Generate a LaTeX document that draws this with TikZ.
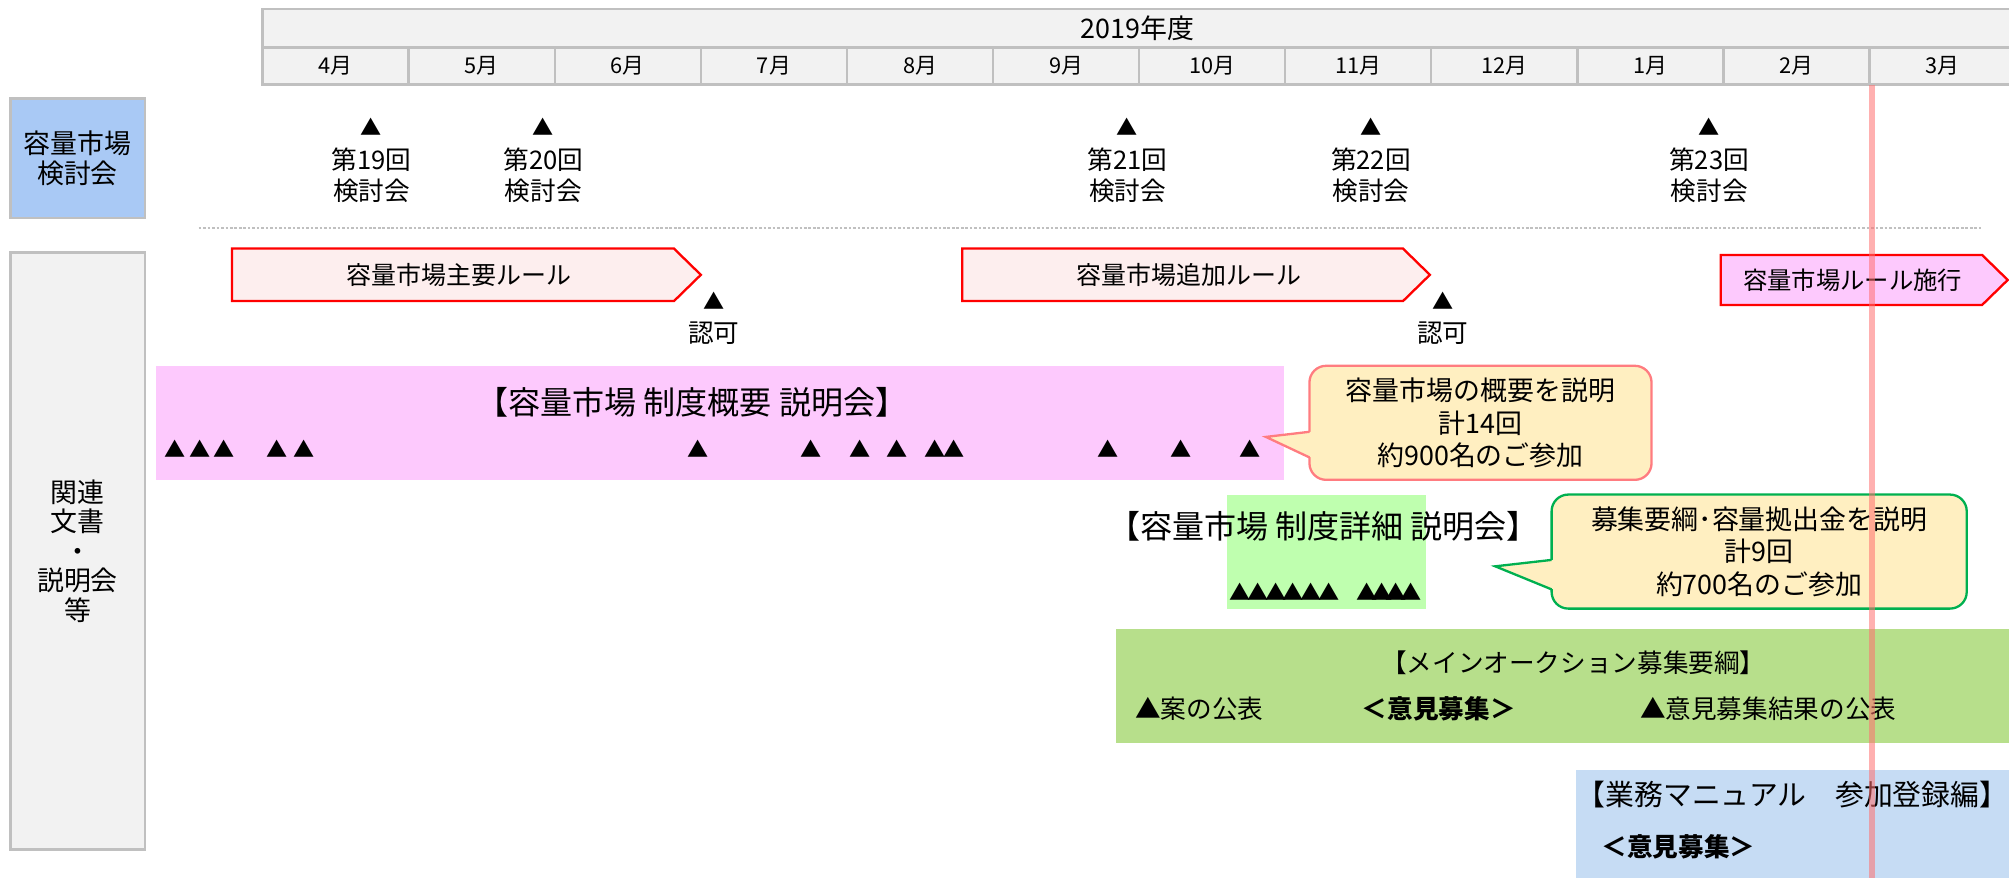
\documentclass[tikz,border=0pt]{standalone}
\usepackage{fontspec}
\setmainfont{Noto Sans CJK JP}
\definecolor{hdrfill}{HTML}{F2F2F2}
\definecolor{hdrline}{HTML}{C0C0C0}
\definecolor{sideblue}{HTML}{A9C9F5}
\definecolor{rulefill}{HTML}{FDEEEE}
\definecolor{rulered}{HTML}{FF0000}
\definecolor{pinkbox}{HTML}{FDC9FD}
\definecolor{callfill}{HTML}{FFEFC1}
\definecolor{callonel}{HTML}{FF7C80}
\definecolor{calltwol}{HTML}{00B050}
\definecolor{lgreen}{HTML}{BFFFAF}
\definecolor{mgreen}{HTML}{B7DF8B}
\definecolor{lblue}{HTML}{C6DCF4}
\definecolor{vline}{HTML}{FF6F6F}
\tikzset{
  hdr/.style={draw=hdrline, fill=hdrfill, line width=2pt, inner sep=0pt, font=\fontsize{21}{24}\selectfont},
  month/.style={draw=hdrline, fill=hdrfill, line width=2pt, inner sep=0pt, minimum width=114pt, minimum height=29pt, font=\fontsize{17}{19}\selectfont},
  side/.style={draw=hdrline, line width=2pt, inner sep=0pt, minimum width=105pt, align=center, font=\fontsize{21}{23}\selectfont},
  lbl/.style={inner sep=0pt, align=center, font=\fontsize{20}{24}\selectfont},
  rulelbl/.style={inner sep=0pt, font=\fontsize{19.5}{22}\selectfont},
  ttl/.style={inner sep=0pt, font=\fontsize{25}{28}\selectfont},
  tri/.style={inner sep=0pt, font=\fontsize{16.5}{16.5}\selectfont},
  rulebox/.style={draw=rulered, line width=1.8pt, fill=rulefill, line join=miter},
  callbody/.style={fill=callfill, line width=1.8pt, rounded corners=13pt, inner sep=0pt, align=center, font=\fontsize{21}{25.5}\selectfont},
}
\begin{document}
\begin{tikzpicture}[x=1pt,y=-1pt]
\useasboundingbox (0,0) rectangle (1568,685);
% header
\node[hdr, minimum width=1366pt, minimum height=30pt] (year) at (888,22) {2019年度};
\foreach \m [count=\i from 0] in {4月,5月,6月,7月,8月,9月,10月,11月,12月,1月,2月,3月}
  \node[month] (m\i) at ({262+114*\i},51.5) {\m};
% side boxes
\node[side, fill=sideblue, minimum height=93pt] (s1) at (60.5,123.5) {容量市場\\検討会};
\node[side, fill=hdrfill, minimum height=466pt] (s2) at (60.5,430) {関連\\文書\\・\\説明会\\等};
% meetings
\foreach \x/\n [count=\i] in {290/19,424/20,880/21,1070/22,1334/23}{
  \node[tri] (mt\i) at (\x,99) {▲};
  \node[lbl] (ml\i) at (\x,137) {第\n 回\\検討会};
}
% separator
\coordinate (sepL) at (155,178);
\coordinate (sepR) at (1547,178);
\draw[hdrline, line width=1pt, dash pattern=on 2pt off 1.5pt] (sepL) -- (sepR);
% rule arrows
\draw[rulebox] (181,194) -- (526,194) -- (547,214.5) -- (526,235) -- (181,235) -- cycle;
\node[rulelbl] (r1) at (358,214.5) {容量市場主要ルール};
\draw[rulebox] (751,194) -- (1095,194) -- (1116,214.5) -- (1095,235) -- (751,235) -- cycle;
\node[rulelbl] (r2) at (928,214.5) {容量市場追加ルール};
\draw[rulebox, fill=pinkbox] (1343,199) -- (1547,199) -- (1567,218.5) -- (1547,238) -- (1343,238) -- cycle;
\node[rulelbl, font=\fontsize{19}{22}\selectfont] (r3) at (1446,218.5) {容量市場ルール施行};
% approvals
\node[tri] (a1) at (557,235) {▲};
\node[lbl] (a1l) at (557,260) {認可};
\node[tri] (a2) at (1126,235) {▲};
\node[lbl] (a2l) at (1126,260) {認可};
% pink box
\fill[pinkbox] (122,286) rectangle (1002,375);
\node[ttl] (p1) at (540,314) {【容量市場 制度概要 説明会】};
\foreach \x [count=\i] in {137,156,175,216,237,545,633,671,700,730,745,865,922,976}
  \node[tri] (pa\i) at (\x,350) {▲};
% callout 1
\node[callbody, draw=callonel, minimum width=267pt, minimum height=89pt] (c1) at (1155.5,330) {容量市場の概要を説明\\計14回\\約900名のご参加};
\fill[callfill] (1023.5,337) -- (988,341) -- (1023.5,357) -- cycle;
\draw[callonel, line width=1.8pt, line join=miter] (1022,337) -- (988,341) -- (1022,357);
% small green box
\fill[lgreen] (958,386) rectangle (1113,475);
\node[ttl] (p2) at (1033,411) {【容量市場 制度詳細 説明会】};
\foreach \x [count=\i] in {968,981.8,995.6,1009.4,1023.2,1037,1067,1078.3,1089.6,1101}
  \node[tri] (pb\i) at (\x,462) {▲};
% callout 2
\node[callbody, draw=calltwol, minimum width=324pt, minimum height=89pt] (c2) at (1373,430.5) {募集要綱･容量拠出金を説明\\計9回\\約700名のご参加};
\fill[callfill] (1212.5,437) -- (1167,442) -- (1212.5,460) -- cycle;
\draw[calltwol, line width=1.8pt, line join=miter] (1211,437) -- (1167,442) -- (1211,460);
% main auction box
\fill[mgreen] (871,491) rectangle (1570,580);
\node[lbl] (g1) at (1228,517) {【メインオークション募集要綱】};
\node[lbl] (g2) at (936,553) {▲案の公表};
\node[lbl] (g3) at (1123,553) {\textbf{＜意見募集＞}};
\node[lbl] (g4) at (1380,553) {▲意見募集結果の公表};
% manual box
\fill[lblue] (1230,601) rectangle (1570,687);
\node[lbl, font=\fontsize{22.5}{26}\selectfont] (b1) at (1399,620) {【業務マニュアル　参加登録編】};
\node[lbl] (b2) at (1310,661) {\textbf{＜意見募集＞}};
% today line
\coordinate (vt) at (1461,66);
\coordinate (vb) at (1461,687);
\draw[vline, opacity=0.55, line width=4.5pt] (vt) -- (vb);
\end{tikzpicture}
\end{document}
